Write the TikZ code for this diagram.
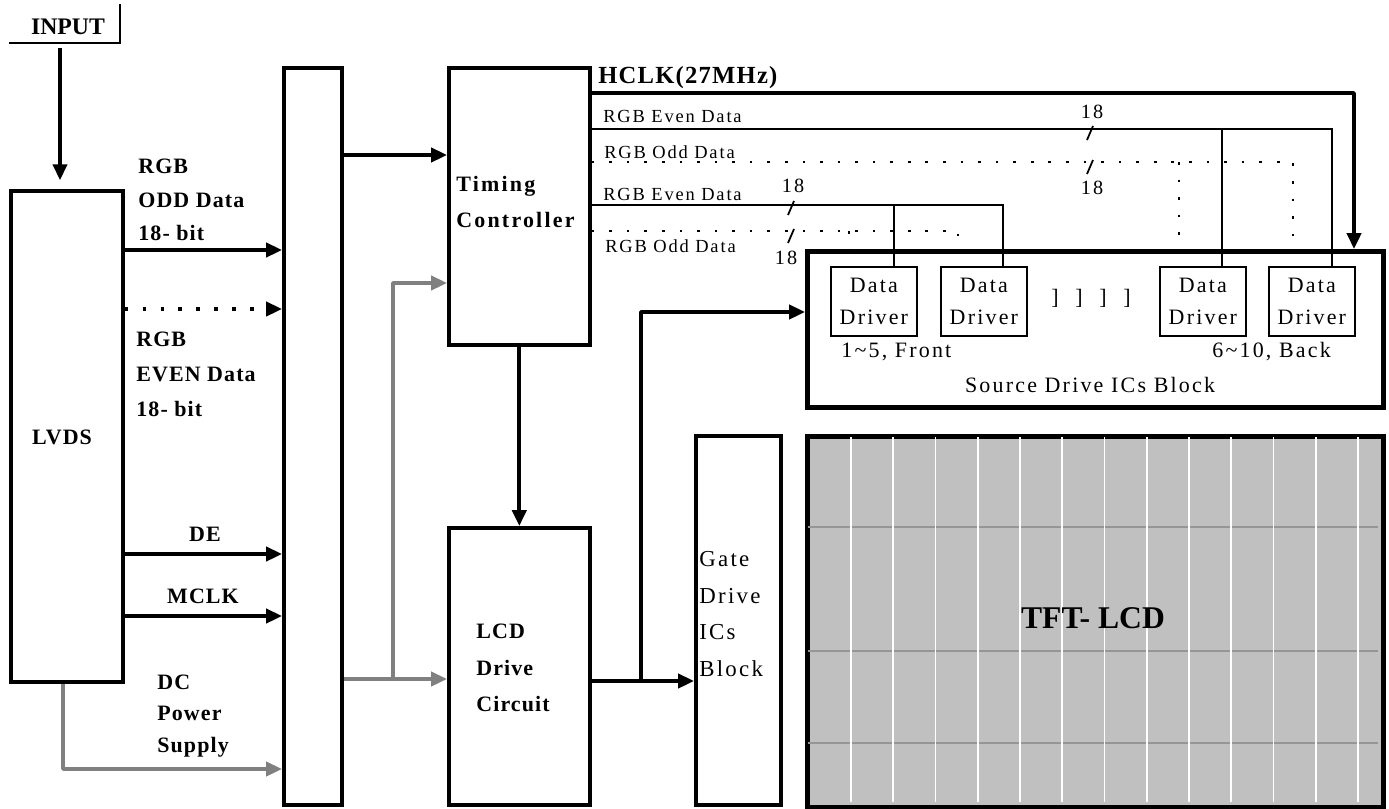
\documentclass[tikz,border=0pt]{standalone}
\usepackage{fontspec}
\setmainfont{Liberation Serif}
\newfontfamily\lsfont{Liberation Serif}[LetterSpace=10]
\newfontfamily\lbfont{Liberation Serif}[LetterSpace=5]
\usepackage{tikz}
\usetikzlibrary{arrows.meta,calc}

\definecolor{feedgray}{RGB}{128,128,128}
\definecolor{lcdgray}{RGB}{192,192,192}
\definecolor{gridgray}{RGB}{150,150,150}

\tikzset{
  blk/.style={draw, line width=2.1pt, inner sep=0pt, anchor=north west},
  arr/.style={line width=2.1pt, line join=round, -{Triangle[length=9pt,width=8pt]}},
  garr/.style={arr, draw=feedgray, color=feedgray},
  bus/.style={line width=1pt},
  dbus/.style={line width=1.1pt, dash pattern=on 1.5pt off 8.5pt},
  blab/.style={font=\lbfont\bfseries\fontsize{12.5}{19}\selectfont, align=left, anchor=west, inner sep=0pt},
  sig/.style={font=\lsfont\fontsize{10.5}{12}\selectfont, anchor=west, inner sep=0pt},
  reg/.style={font=\lsfont\fontsize{12.5}{21}\selectfont, align=left, anchor=west, inner sep=0pt}
}

\begin{document}
\begin{tikzpicture}[x=0.02cm,y=-0.02cm]
\useasboundingbox (0,0) rectangle (1389,808);

% blocks
\node[blk, minimum width=2.24cm, minimum height=9.82cm] (lvds) at (9,189) {};
\node[blk, minimum width=1.16cm, minimum height=14.74cm] (mux) at (282,66) {};
\node[blk, minimum width=2.82cm, minimum height=5.54cm] (tcon) at (447,66) {};
\node[blk, minimum width=2.82cm, minimum height=5.54cm] (lcddrv) at (447,526) {};
\node[blk, minimum width=1.70cm, minimum height=7.38cm] (gate) at (694,434) {};
\node[blk, line width=2.7pt, minimum width=11.52cm, minimum height=3.12cm] (src) at (805,249) {};
\node[blk, line width=2.7pt, fill=lcdgray, minimum width=11.52cm, minimum height=7.42cm] (tft) at (805,434) {};

\foreach \yy in {527,651,743}
    \draw[gridgray, line width=0.9pt] (808,\yy) -- (1378,\yy);
\foreach \k in {0,...,12}{
    \pgfmathsetmacro\gx{851 + 42.25*\k}
    \draw[white, line width=0.9pt] (\gx,437) -- (\gx,802);
}

\foreach \n/\xx in {1/830,2/940,3/1159,4/1268}
    \node[blk, line width=1pt, minimum width=1.72cm, minimum height=1.38cm, align=center,
          font=\lsfont\fontsize{12.5}{18.7}\selectfont] (dd\n) at (\xx,266) {Data\\Driver};

% input
\node[font=\bfseries\fontsize{13.5}{16}\selectfont, inner sep=0pt] (lInput) at (68,27) {INPUT};
\draw[line width=1pt] (9,43) -- (120,43) -- (120,4);
\coordinate (inTop) at (60,48);
\draw[arr, shorten >=5pt] (inTop) -- (inTop |- lvds.north);

% LVDS outputs
\coordinate (yOdd) at (0,250);
\coordinate (yEven) at (0,309);
\coordinate (yDE) at (0,554);
\coordinate (yMclk) at (0,616);
\coordinate (yDC) at (63,769);
\draw[arr] (lvds.east |- yOdd) -- (mux.west |- yOdd);
\draw[arr, dash pattern=on 2pt off 8.2pt] (lvds.east |- yEven) -- (mux.west |- yEven);
\draw[arr] (lvds.east |- yDE) -- (mux.west |- yDE);
\draw[arr] (lvds.east |- yMclk) -- (mux.west |- yMclk);
\draw[garr] (lvds.south -| yDC) -- (yDC) -- (mux.west |- yDC);

% power and data to controller / drive circuit
\coordinate (yPwr) at (393,679);
\coordinate (yTc) at (393,283);
\coordinate (yIn) at (0,155);
\draw[garr] (mux.east |- yPwr) -- (lcddrv.west |- yPwr);
\draw[garr] (yPwr) -- (yTc) -- (tcon.west |- yTc);
\draw[arr] (mux.east |- yIn) -- (tcon.west |- yIn);
\draw[arr] (tcon.south) -- (lcddrv.north);

\coordinate (yGate) at (641,681);
\coordinate (ySrc) at (641,312);
\draw[arr] (lcddrv.east |- yGate) -- (gate.west |- yGate);
\draw[arr] (yGate) -- (ySrc) -- (src.west |- ySrc);

% timing controller buses
\coordinate (hclk) at (1354,93);
\coordinate (ev1) at (1332,129);
\coordinate (ev1b) at (1222,129);
\coordinate (od1) at (1293,162);
\coordinate (od1b) at (1179,162);
\coordinate (ev2) at (1003,205);
\coordinate (ev2b) at (894,205);
\coordinate (od2) at (958,231);
\coordinate (od2b) at (849,231);
\draw[arr] (tcon.east |- hclk) -- (hclk) -- (src.north -| hclk);
\draw[bus] (tcon.east |- ev1) -- (ev1) -- (dd4.north -| ev1);
\draw[bus] (ev1b) -- (dd3.north -| ev1b);
\draw[dbus] (tcon.east |- od1) -- (od1) -- (dd4.north -| od1);
\draw[dbus] (od1b) -- (dd3.north -| od1b);
\draw[bus] (tcon.east |- ev2) -- (ev2) -- (dd2.north -| ev2);
\draw[bus] (ev2b) -- (dd1.north -| ev2b);
\draw[dbus] (tcon.east |- od2) -- (od2) -- (dd2.north -| od2);
\draw[dbus] (od2b) -- (dd1.north -| od2b);

\foreach \xx/\yy in {1090/133,1090/167,791/208,791/236}
    \draw[bus] (\xx-3,\yy+7) -- (\xx+3,\yy-7);
\foreach \n/\xx/\yy in {a/1092/112,b/1092/188,c/793/186,d/786/258}
    \node[sig, anchor=center, font=\lsfont\fontsize{11.5}{12}\selectfont] (w\n) at (\xx,\yy) {18};

% labels
\node[blab, font=\lbfont\bfseries\fontsize{14}{16}\selectfont] (sHclk) at (598,78) {HCLK(27MHz)};
\node[sig] (sEv1) at (603,116) {RGB Even Data};
\node[sig] (sOd1) at (604,152) {RGB Odd Data};
\node[sig] (sEv2) at (603,194) {RGB Even Data};
\node[sig] (sOd2) at (605,246) {RGB Odd Data};

\node[blab, anchor=center] (lLvds) at (62,437) {LVDS};
\node[blab] (lOdd) at (138,200) {RGB\\ODD Data\\18- bit};
\node[blab, font=\lbfont\bfseries\fontsize{12.5}{20}\selectfont] (lEven) at (136,374) {RGB\\EVEN Data\\18- bit};
\node[blab, anchor=center] (lDE) at (205,534) {DE};
\node[blab, anchor=center] (lMclk) at (203,596) {MCLK};
\node[blab, font=\lbfont\bfseries\fontsize{12.5}{18}\selectfont] (lDC) at (157,716) {DC\\Power\\Supply};
\node[blab, font=\lsfont\bfseries\fontsize{12.5}{20}\selectfont] (lTcon) at (456,202) {Timing\\Controller};
\node[blab, font=\lbfont\bfseries\fontsize{12.5}{20.7}\selectfont] (lLcd) at (476,668) {LCD\\Drive\\Circuit};
\node[reg, font=\lsfont\fontsize{13}{21}\selectfont] (lGate) at (699,614) {Gate\\Drive\\ICs\\Block};

\node[reg, anchor=center] (lDots) at (1091,298) {]\hspace{9.5pt}]\hspace{9.5pt}]\hspace{9.5pt}]};
\node[reg] (lFront) at (841,352) {1\textasciitilde 5, Front};
\node[reg] (lBack) at (1212,352) {6\textasciitilde 10, Back};
\node[reg, anchor=center] (lSrc) at (1090,385) {Source Drive ICs Block};
\node[font=\bfseries\fontsize{18}{20}\selectfont, inner sep=0pt] (lTft) at (1093,618) {TFT- LCD};

\end{tikzpicture}
\end{document}
